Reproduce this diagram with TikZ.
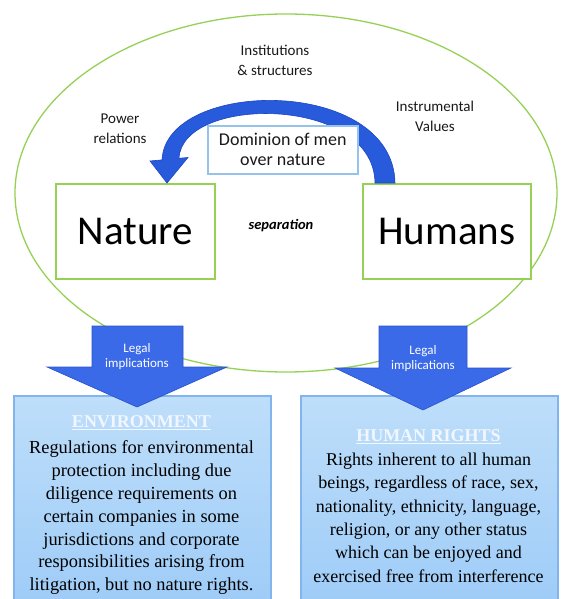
\documentclass[tikz,border=0pt]{standalone}
\usepackage{fontspec}
\setmainfont{Liberation Serif}
\newfontfamily\carlito{Carlito}
\usetikzlibrary{calc}
\definecolor{ellgreen}{RGB}{150,208,85}
\definecolor{domborder}{RGB}{150,195,235}
\definecolor{arcblue}{RGB}{40,90,220}
\definecolor{arcedge}{RGB}{28,70,195}
\definecolor{legalblue}{RGB}{58,106,232}
\definecolor{legaledge}{RGB}{42,82,205}
\definecolor{infotop}{RGB}{190,222,250}
\definecolor{infobot}{RGB}{155,202,247}
\definecolor{infoedge}{RGB}{130,180,238}
\definecolor{headwhite}{RGB}{242,247,255}
\begin{document}
\begin{tikzpicture}[x=1pt,y=-1pt,
  lbl/.style={font=\carlito\fontsize{15}{20}\selectfont, text=black!90, align=center, inner sep=0},
  bigbox/.style={draw=ellgreen, line width=1.5pt, fill=white, anchor=north west, inner sep=0,
    font=\carlito\fontsize{41}{45}\selectfont, text=black},
  dombox/.style={draw=domborder, line width=1.5pt, fill=white, anchor=north west, inner sep=0,
    font=\carlito\fontsize{18}{20}\selectfont, align=center, text=black!90},
  legalarrow/.style={fill=legalblue, draw=legaledge, line width=0.6pt},
  legaltxt/.style={font=\carlito\fontsize{13}{15}\selectfont, text=white, align=center, inner sep=0},
  infobox/.style={draw=infoedge, line width=2pt, top color=infotop, bottom color=infobot,
    anchor=north west, inner sep=0},
  headtxt/.style={font=\bfseries\fontsize{18}{20}\selectfont, text=headwhite, inner sep=0},
  bodytxt/.style={align=center, inner sep=0, anchor=north, text=black}
]
\useasboundingbox (0,0) rectangle (560,599);
\clip (0,0) rectangle (560,599);

% outer ellipse
\draw[ellgreen, line width=1.3pt] (286,193) ellipse [x radius=271, y radius=179];

% labels around
\node[lbl] (inst) at (275,60) {Institutions\\\& structures};
\node[lbl] (power) at (120,129) {Power\\relations};
\node[lbl] (instr) at (435,116) {Instrumental\\Values};

% Nature and Humans boxes
\node[bigbox, minimum width=159pt, minimum height=95pt] (nature) at (55,183) {Nature};
\node[bigbox, minimum width=168pt, minimum height=95pt] (humans) at (362,183) {Humans};
\node[font=\carlito\bfseries\itshape\fontsize{14.5}{16}\selectfont, inner sep=0] (sep) at (281,226) {separation};

% curved block arrow from Humans to Nature
\coordinate (arcR1) at ($(humans.north west)+(33,0)$);
\coordinate (arcR2) at ($(humans.north west)+(13,0)$);
\fill[arcblue, draw=arcedge, line width=0.6pt]
  (arcR1) .. controls (393,76) and (166,78) .. (162,159.9)
  -- (150,161) -- (167,183) -- (188,157.5) -- (179,158.3)
  .. controls (182,95) and (374,95) .. (arcR2) -- cycle;

% dominion box
\node[dombox, minimum width=150pt, minimum height=48pt] (dom) at (207,125) {Dominion of men\\over nature};

% bottom info boxes
\node[infobox, minimum width=257pt, minimum height=230pt] (envbox) at (13,395) {};
\node[infobox, minimum width=257pt, minimum height=230pt] (hrbox) at (300,395) {};

\node[headtxt] (envhead) at (141.5,423) {\underline{ENVIRONMENT}};
\node[bodytxt, font=\fontsize{18.4}{22.8}\selectfont] (envbody) at (141.5,440.7)
  {Regulations for environmental\\protection including due\\diligence requirements on\\certain companies in some\\jurisdictions and corporate\\responsibilities arising from\\litigation, but no nature rights.};

\node[headtxt] (hrhead) at (428.5,437) {\underline{HUMAN RIGHTS}};
\node[bodytxt, font=\fontsize{18}{23.4}\selectfont] (hrbody) at (428.5,452.7)
  {Rights inherent to all human\\beings, regardless of race, sex,\\nationality, ethnicity, language,\\religion, or any other status\\which can be enjoyed and\\exercised free from interference};

% legal implication arrows
\fill[legalarrow] (92,326) -- (183,326) -- (183,367) -- (227,367) -- (137,407) -- (47,367) -- (92,367) -- cycle;
\node[legaltxt] (legL) at (137,357) {Legal\\implications};
\fill[legalarrow] (379,326) -- (467,326) -- (467,368) -- (511,368) -- (423,410) -- (335,368) -- (379,368) -- cycle;
\node[legaltxt] (legR) at (423,359) {Legal\\implications};
\end{tikzpicture}
\end{document}
